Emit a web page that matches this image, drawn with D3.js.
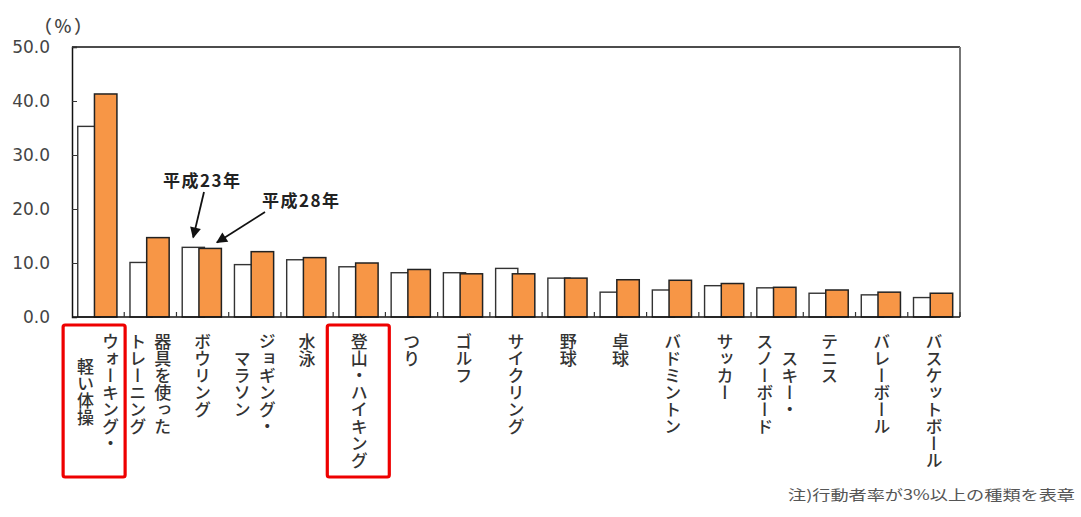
<!DOCTYPE html>
<html><head><meta charset="utf-8">
<script src="https://cdn.jsdelivr.net/npm/d3@7"></script>
<style>
html,body{margin:0;padding:0;background:#fff;}
svg{display:block;}
</style>
</head><body>
<svg id="chart" width="1081" height="517"></svg>
<script>
const categories = ["ウォーキング・\n軽い体操","器具を使った\nトレーニング","ボウリング","ジョギング・\nマラソン","水泳","登山・ハイキング","つり","ゴルフ","サイクリング","野球","卓球","バドミントン","サッカー","スキー・\nスノーボード","テニス","バレーボール","バスケットボール"];
const h23 = [35.3,10.1,12.9,9.7,10.6,9.3,8.2,8.2,9.0,7.2,4.6,5.0,5.8,5.4,4.4,4.1,3.6];
const h28 = [41.3,14.7,12.7,12.1,11.0,10.0,8.8,8.0,8.0,7.2,6.9,6.8,6.2,5.5,5.0,4.6,4.4];
const yTicks = [0,10,20,30,40,50];
const seriesNames = ["平成23年","平成28年"];
const highlighted = ["ウォーキング・\n軽い体操","登山・ハイキング"];
const unitLabel = "（%）";
const footnote = "注)行動者率が3%以上の種類を表章";

const svg = d3.select("#chart");
const L = 72, R = 960, T = 47, B = 317;
const x = d3.scaleBand().domain(categories).range([L, R]).padding(0);
const y = d3.scaleLinear().domain([0, 50]).range([B, T]);
const bw = x.bandwidth();

// bars
const g = svg.append("g");
g.selectAll("rect.w").data(categories).join("rect")
  .attr("x", d => x(d) + bw*0.11).attr("width", bw*0.425)
  .attr("y", (d,i) => y(h23[i])).attr("height", (d,i) => y(0) - y(h23[i]))
  .attr("fill", "#fff").attr("stroke", "#333").attr("stroke-width", 1.4);
g.selectAll("rect.o").data(categories).join("rect")
  .attr("x", d => x(d) + bw*0.43).attr("width", bw*0.43)
  .attr("y", (d,i) => y(h28[i])).attr("height", (d,i) => y(0) - y(h28[i]))
  .attr("fill", "#F79646").attr("stroke", "#222").attr("stroke-width", 1.5);

// frame
svg.append("line").attr("x1", L).attr("x2", R).attr("y1", T).attr("y2", T).attr("stroke", "#111").attr("stroke-width", 1.5);
svg.append("line").attr("x1", R).attr("x2", R).attr("y1", T).attr("y2", B).attr("stroke", "#777").attr("stroke-width", 2);

// y axis
const yAxis = d3.axisLeft(y).tickValues(yTicks).tickSize(-5).tickPadding(22).tickFormat(d3.format(".1f"));
const ya = svg.append("g").attr("transform", `translate(${L},0)`).call(yAxis);
ya.select(".domain").attr("stroke", "#111").attr("stroke-width", 1.5);
ya.selectAll(".tick line").attr("stroke", "#333");
ya.selectAll(".tick text").attr("font-family", "DejaVu Sans").attr("font-size", 17).attr("fill", "#444");

// x axis (ticks between categories)
const xa = svg.append("g").attr("transform", `translate(0,${B})`);
xa.append("line").attr("x1", L).attr("x2", R).attr("stroke", "#111").attr("stroke-width", 1.5);
xa.selectAll("line.t").data(categories).join("line")
  .attr("x1", d => x(d) + bw).attr("x2", d => x(d) + bw)
  .attr("y1", 0).attr("y2", -5).attr("stroke", "#333").attr("stroke-width", 1.2);

// category labels (vertical)
const fs = 17, colGap = 25, labelTop = 333;
categories.forEach(c => {
  const lines = c.split("\n");
  const cx = x(c) + bw/2;
  const maxLen = d3.max(lines, l => l.length);
  const midY = labelTop + maxLen*fs/2;
  lines.forEach((ln, j) => {
    const colX = cx + ((lines.length-1)/2 - j) * colGap;
    svg.append("text").text(ln)
      .attr("x", colX).attr("y", midY)
      .attr("text-anchor", "middle")
      .style("writing-mode", "vertical-rl")
      .attr("font-family", "Noto Sans CJK JP").attr("font-size", fs).attr("font-weight", 500)
      .attr("fill", "#333");
  });
});

// highlight boxes
highlighted.forEach((c, k) => {
  const cx = x(c) + bw/2;
  svg.append("rect").attr("x", cx - (k === 0 ? 35 : 32)).attr("y", 325).attr("width", 62).attr("height", 152)
    .attr("rx", 2).attr("fill", "none").attr("stroke", "#ee0000").attr("stroke-width", 3.2);
});

// unit label
svg.append("text").text(unitLabel).attr("x", 34).attr("y", 33)
  .attr("textLength", 58).attr("lengthAdjust", "spacing")
  .attr("font-family", "Noto Sans CJK JP").attr("font-size", 18).attr("font-weight", 500).attr("fill", "#444");

// annotations
const bowl = categories[2];
const annots = [
  {t: seriesNames[0], tx: 163, ty: 187, x1: 204, y1: 192, x2: x(bowl) + bw*0.11 + 11, y2: y(h23[2]) - 10},
  {t: seriesNames[1], tx: 262, ty: 207, x1: 265, y1: 212, x2: x(bowl) + bw*0.43 + 18, y2: y(h28[2]) - 6}
];
svg.append("defs").append("marker").attr("id", "ah").attr("viewBox", "0 0 10 10")
  .attr("refX", 9).attr("refY", 5).attr("markerWidth", 14).attr("markerHeight", 11)
  .attr("markerUnits", "userSpaceOnUse").attr("orient", "auto")
  .append("path").attr("d", "M0,0 L10,5 L0,10 Z").attr("fill", "#111");
annots.forEach(a => {
  svg.append("text").text(a.t).attr("x", a.tx).attr("y", a.ty)
    .attr("font-family", "Noto Sans CJK JP").attr("font-size", 17).attr("font-weight", 700)
    .attr("letter-spacing", 1.5).attr("fill", "#222");
  svg.append("line").attr("x1", a.x1).attr("y1", a.y1).attr("x2", a.x2).attr("y2", a.y2)
    .attr("stroke", "#111").attr("stroke-width", 1.8).attr("marker-end", "url(#ah)");
});

// footnote
svg.append("text").text(footnote).attr("x", 788).attr("y", 500)
  .attr("textLength", 287).attr("lengthAdjust", "spacingAndGlyphs")
  .attr("font-family", "Noto Sans CJK JP").attr("font-size", 14).attr("fill", "#555");
</script>
</body></html>
